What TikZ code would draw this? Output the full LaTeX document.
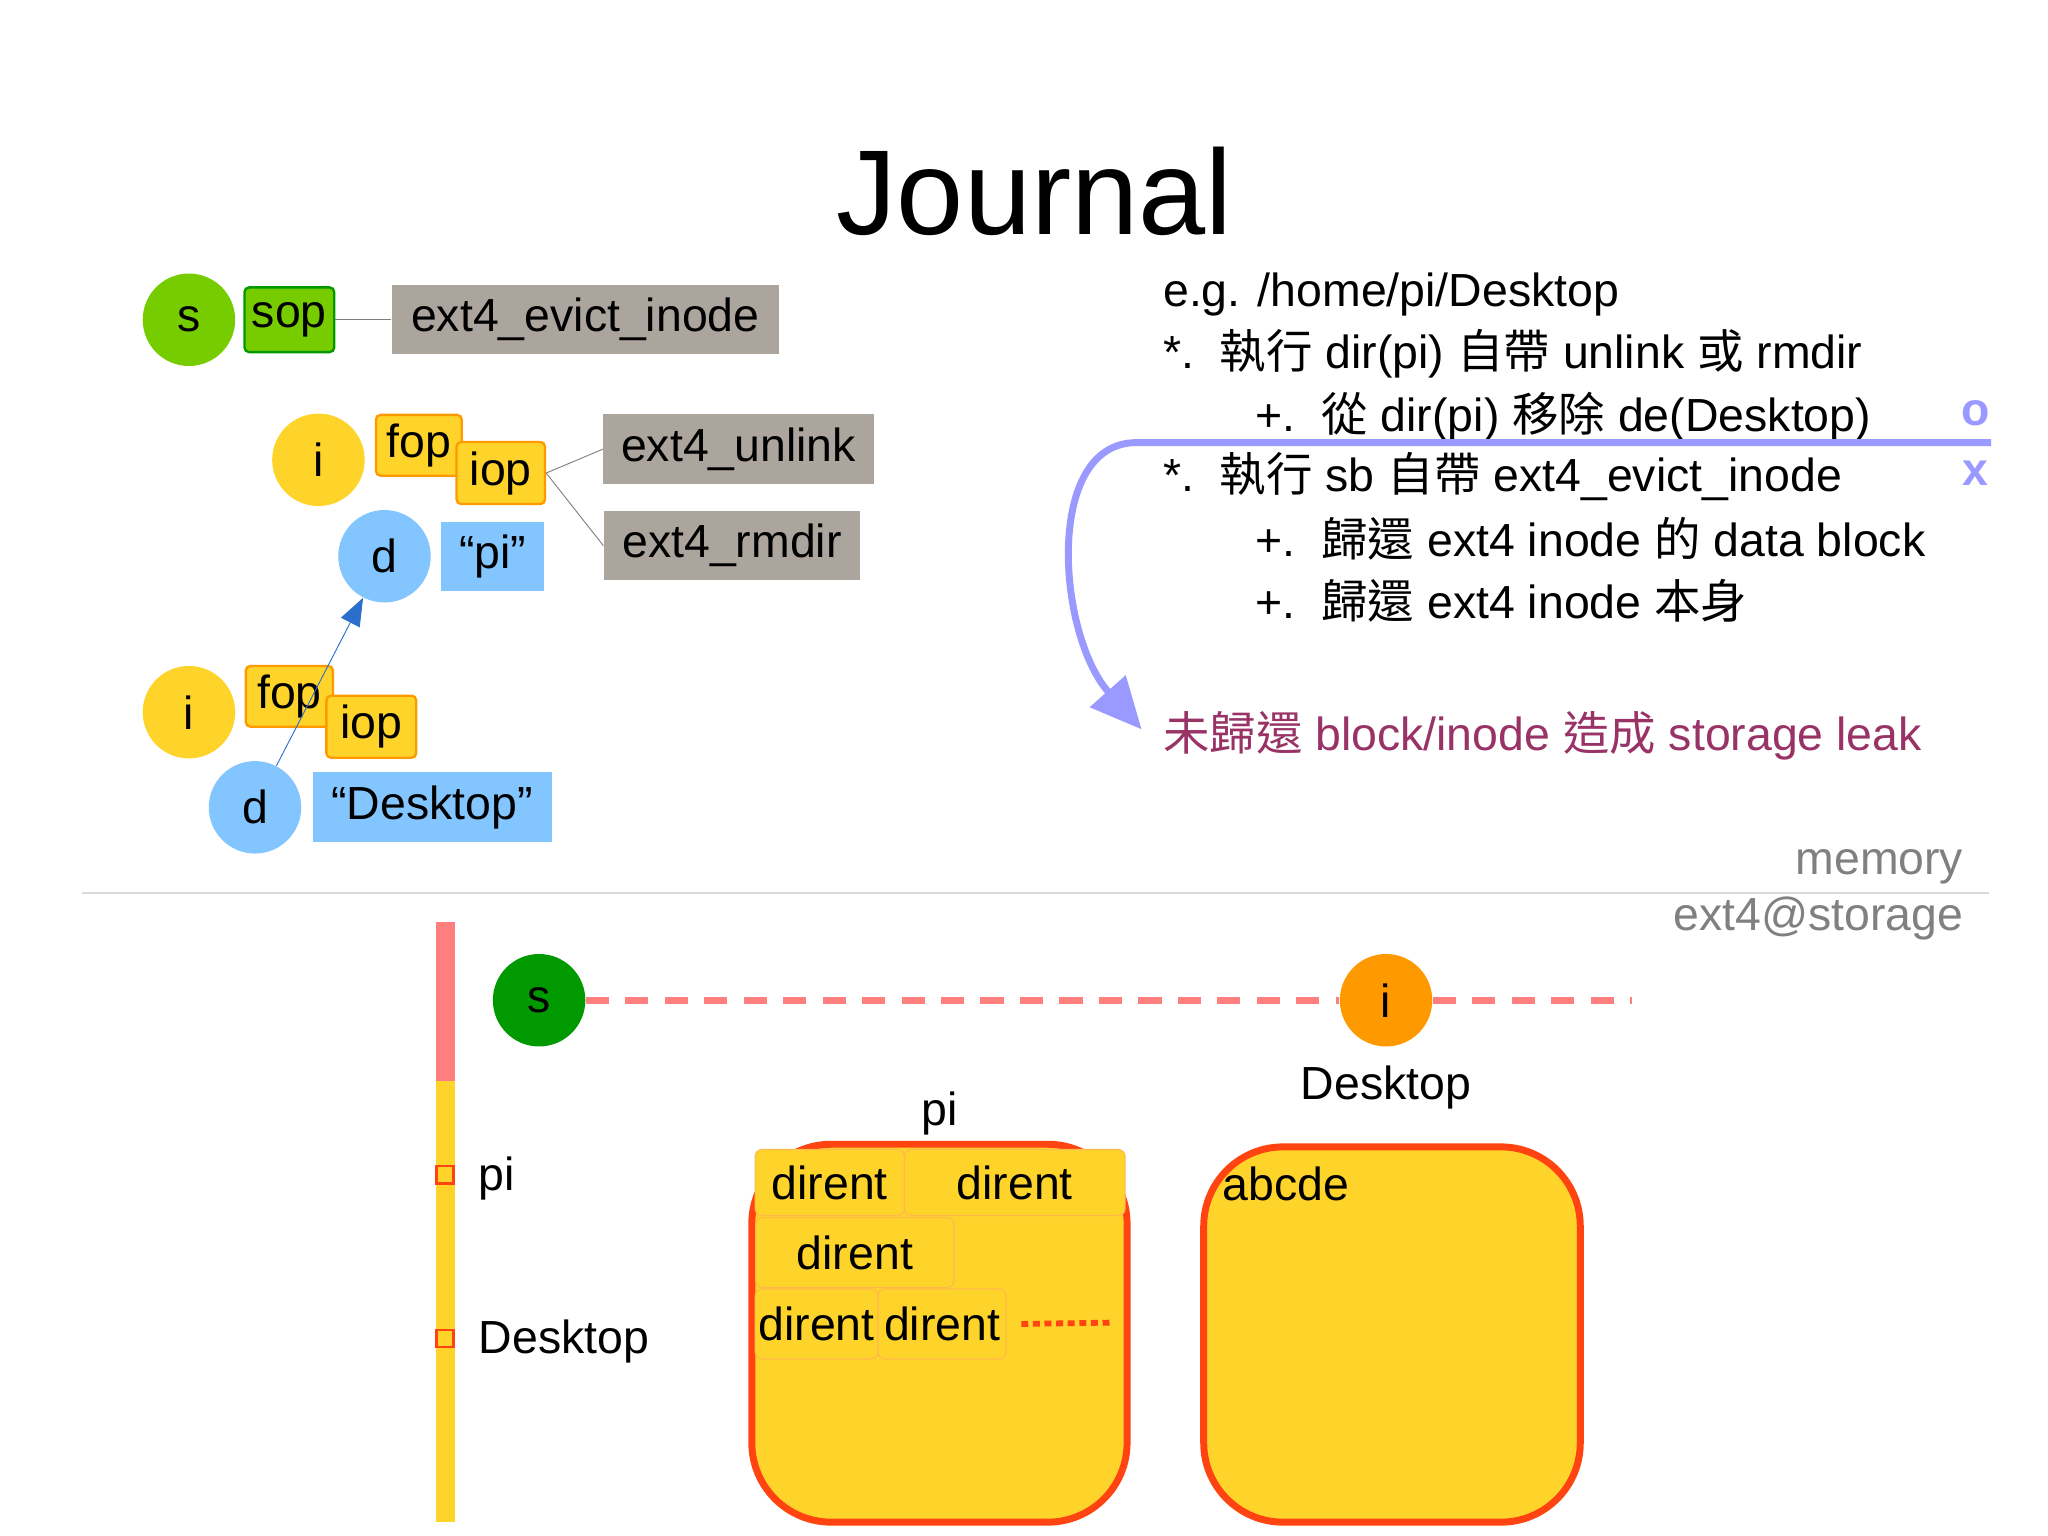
\documentclass[tikz,border=0pt]{standalone}
\usepackage{fontspec}
\setmainfont{Liberation Sans}
\newfontfamily\cjk{Noto Sans CJK TC}
\usetikzlibrary{arrows.meta}
\definecolor{lg}{HTML}{77CC00}
\definecolor{dg}{HTML}{009900}
\definecolor{yl}{HTML}{FFD42A}
\definecolor{og}{HTML}{FF9900}
\definecolor{bl}{HTML}{83C5FF}
\definecolor{gr}{HTML}{ABA59E}
\definecolor{pu}{HTML}{9999FF}
\definecolor{lk}{HTML}{993366}
\definecolor{rd}{HTML}{FF4411}
\definecolor{pk}{HTML}{FF7F7F}
\definecolor{ab}{HTML}{2A6FCC}
\begin{document}
\begin{tikzpicture}[x=0.02cm,y=-0.02cm,
  T/.style={font=\fontsize{20}{24}\selectfont},
  circ/.style={circle,minimum size=1.4cm,inner sep=0pt,T},
  box/.style={rectangle,inner sep=0pt,T},
  gbox/.style={box,fill=gr},
  ybox/.style={box,fill=yl,draw=og,line width=1pt,rounded corners=2pt},
  cell/.style={box,draw=og!70,line width=0.5pt,rounded corners=3pt,fill=yl},
  txt/.style={T,anchor=west,inner sep=0pt}]
\useasboundingbox (0,0) rectangle (1550,1162);
\node[font=\fontsize{52}{58}\selectfont] (title) at (783,145) {Journal};
% top left
\node[circ,fill=lg] (s1) at (143,242) {s};
\node[box,fill=lg,draw=dg,line width=1pt,rounded corners=2pt,minimum width=1.36cm,minimum height=0.98cm] (sop) at (219,242) {sop};
\node[gbox,minimum width=5.86cm,minimum height=1.04cm] (evict) at (443,242) {ext4\_evict\_inode};
\draw[gray,line width=0.4pt] (sop) -- (evict);
\node[circ,fill=yl] (i1) at (241,348) {i};
\node[ybox,minimum width=1.3cm,minimum height=0.92cm] (fop1) at (317,337) {fop};
\node[ybox,minimum width=1.34cm,minimum height=0.94cm] (iop1) at (379,358) {iop};
\node[gbox,minimum width=4.1cm,minimum height=1.06cm] (unlink) at (559,340) {ext4\_unlink};
\node[gbox,minimum width=3.88cm,minimum height=1.04cm] (rmdir) at (554,413) {ext4\_rmdir};
\draw[gray,line width=0.4pt] (iop1.east) -- (unlink.west);
\draw[gray,line width=0.4pt] (iop1.east) -- (rmdir.west);
\node[circ,fill=bl] (d1) at (291,421) {d};
\node[box,fill=bl,minimum width=1.56cm,minimum height=1.04cm] (pi1) at (373,421) {“pi”};
\node[circ,fill=yl] (i2) at (143,539) {i};
\node[ybox,minimum width=1.32cm,minimum height=0.92cm] (fop2) at (219,527) {fop};
\node[ybox,minimum width=1.36cm,minimum height=0.94cm] (iop2) at (281,550) {iop};
\node[circ,fill=bl] (d2) at (193,611) {d};
\node[box,fill=bl,minimum width=3.62cm,minimum height=1.06cm] (desk1) at (327,611) {“Desktop”};
\draw[ab,line width=0.4pt,-{Triangle[length=12pt,width=9pt]}] (d2) -- (d1);
% right text
\node[txt] (t1) at (880,223) {e.g. /home/pi/Desktop};
\node[txt] (t2) at (880,268) {*.\ \ {\cjk 執行} dir(pi) {\cjk 自帶} unlink {\cjk 或} rmdir};
\node[txt] (t3) at (950,315) {+.\ \ {\cjk 從} dir(pi) {\cjk 移除} de(Desktop)};
\node[txt] (t4) at (880,361) {*.\ \ {\cjk 執行} sb {\cjk 自帶} ext4\_evict\_inode};
\node[txt] (t5) at (950,408) {+.\ \ {\cjk 歸還} ext4 inode {\cjk 的} data block};
\node[txt] (t6) at (950,455) {+.\ \ {\cjk 歸還} ext4 inode {\cjk 本身}};
\node[txt,text=lk] (leak) at (880,557) {{\cjk 未歸還} block/inode {\cjk 造成} storage leak};
\node[T,text=pu,font=\bfseries\fontsize{20}{24}\selectfont] (o) at (1495,313) {o};
\node[T,text=pu,font=\bfseries\fontsize{20}{24}\selectfont] (x) at (1495,358) {x};
\coordinate (pe) at (1507,335);
\coordinate (pa) at (864,552);
\draw[pu,line width=3pt,-{Triangle[length=22pt,width=20pt]}] (pe) -- (860,335) .. controls (790,335) and (800,480) .. (pa);
% separator
\draw[gray!30,line width=0.8pt] (62,676) -- (1505,676);
\node[T,text=gray,anchor=east] (mem) at (1492,656) {memory};
\node[T,text=gray,anchor=east] (sto) at (1492,695) {ext4@storage};
% bottom
\fill[pk] (330,698) rectangle (344,818);
\fill[yl] (330,818) rectangle (344,1152);
\node[rectangle,draw=rd,fill=yl,line width=1.2pt,minimum size=0.26cm,inner sep=0pt] (q1) at (337,889) {};
\node[rectangle,draw=rd,fill=yl,line width=1.2pt,minimum size=0.26cm,inner sep=0pt] (q2) at (337,1013) {};
\node[txt] (lpi) at (362,892) {pi};
\node[txt] (ldesk) at (362,1015) {Desktop};
\node[circ,fill=dg] (s2) at (408,757) {s};
\node[circ,fill=og] (i3) at (1049,757) {i};
\coordinate (de) at (1235,757);
\draw[pk,line width=3pt,dash pattern=on 10pt off 7pt] (s2) -- (i3);
\draw[pk,line width=3pt,dash pattern=on 10pt off 7pt] (i3) -- (de);
\node[T] (bpi) at (711,843) {pi};
\node[T] (bdesk) at (1049,823) {Desktop};
\draw[rd,fill=yl,line width=3pt,rounded corners=1.2cm] (569,866) rectangle (853,1152);
\node[cell,minimum width=2.26cm,minimum height=1cm] (c1) at (628,895) {dirent};
\node[cell,minimum width=3.34cm,minimum height=1cm] (c2) at (768,895) {dirent};
\node[cell,minimum width=3.0cm,minimum height=1.06cm] (c3) at (647,948) {dirent};
\node[cell,minimum width=1.86cm,minimum height=1.06cm] (c4) at (618,1002) {dirent};
\node[cell,minimum width=1.94cm,minimum height=1.06cm] (c5) at (713,1002) {dirent};
\coordinate (dot) at (840,1001);
\draw[rd,line width=2.5pt,dash pattern=on 3pt off 2pt] (c5.east) ++(11,0) -- (dot);
\draw[rd,fill=yl,line width=3pt,rounded corners=1.2cm] (911,868) rectangle (1196,1152);
\node[txt] (abc) at (925,896) {abcde};
\end{tikzpicture}
\end{document}
